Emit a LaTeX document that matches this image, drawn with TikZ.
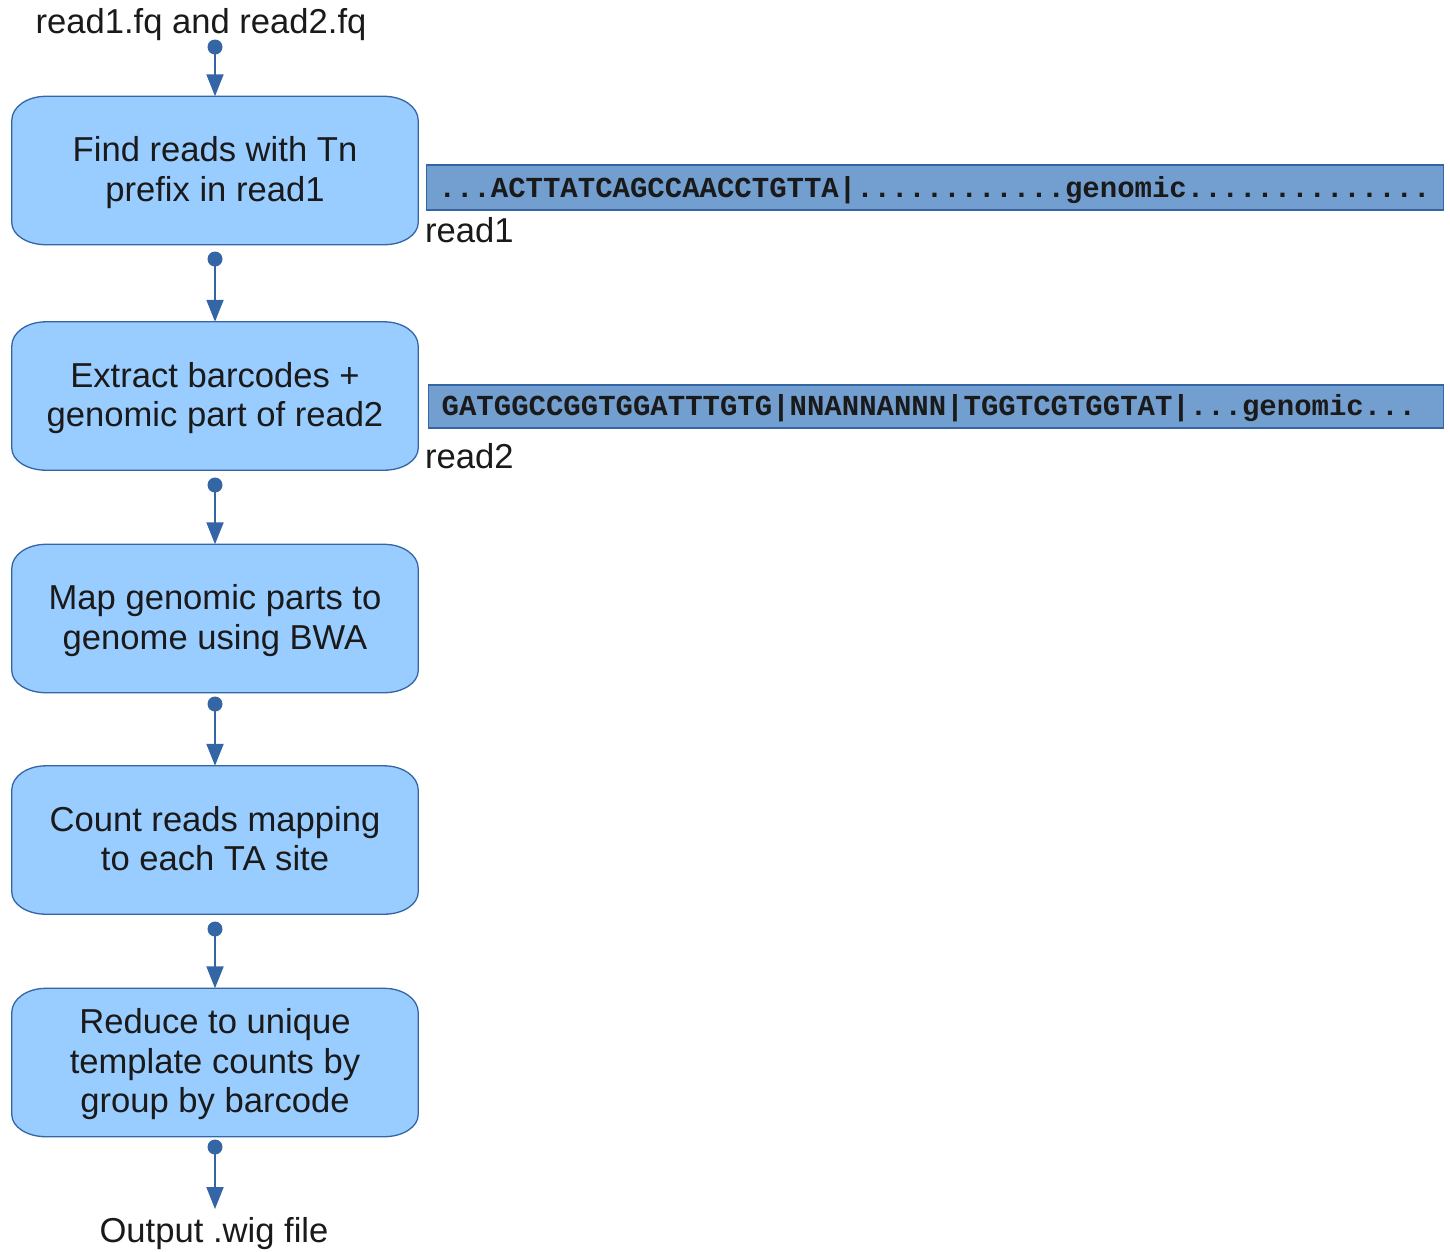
\documentclass[tikz,border=0pt]{standalone}
\usepackage{fontspec}
\setmainfont{Liberation Sans}
\newfontfamily\monob{Liberation Mono}
\usetikzlibrary{arrows.meta,backgrounds}
\definecolor{boxfill}{HTML}{99CCFF}
\definecolor{lineblue}{HTML}{3465A4}
\definecolor{barfill}{HTML}{729FCF}
\definecolor{txt}{HTML}{1A1A1A}
\newcommand\bt[1]{\raisebox{-3pt}[\height][\depth]{\begin{tabular}{@{}c@{}}#1\end{tabular}}}
\newcommand\lowered[2]{\raisebox{-#1}[\height][\depth]{#2}}
\tikzset{
  boxtext/.style={shape=rectangle, minimum width=406pt, minimum height=148pt, inner sep=0pt,
    align=center, text=txt, font=\fontsize{34.6}{39.5}\selectfont},
  boxshape/.style={fill=boxfill, draw=lineblue, line width=1.3pt},
  plain/.style={inner sep=0pt, text=txt, font=\fontsize{34.6}{39.5}\selectfont},
  dotnode/.style={circle, fill=lineblue, inner sep=0pt, minimum size=15pt},
  conn/.style={draw=lineblue, line width=2pt, -{Triangle[width=17pt,length=22pt]}, shorten <=-1pt},
  readbar/.style={shape=rectangle, fill=barfill, draw=lineblue, line width=1.3pt,
    anchor=west, inner ysep=0pt, text=txt, font=\monob\bfseries\fontsize{29}{30}\selectfont}
}
\newcommand\drawboxshape[1]{%
  \draw[boxshape] ([yshift=-24pt]#1.north west) arc[start angle=180,end angle=90,x radius=34pt,y radius=24pt]
    -- ([xshift=-34pt]#1.north east) arc[start angle=90,end angle=0,x radius=34pt,y radius=24pt]
    -- ([yshift=22pt]#1.south east) arc[start angle=0,end angle=-90,x radius=34pt,y radius=22pt]
    -- ([xshift=34pt]#1.south west) arc[start angle=270,end angle=180,x radius=34pt,y radius=22pt]
    -- cycle;}
\begin{document}
\begin{tikzpicture}[x=1pt,y=1pt]
\useasboundingbox (0,0) rectangle (1450,-1251);
% title
\node[plain] (in) at (201,-25) {read1.fq and read2.fq};
% boxes
\node[boxtext] (b1) at (215,-170.5) {\bt{Find reads with Tn\\prefix in read1}};
\node[boxtext] (b2) at (215,-396) {\bt{Extract barcodes +\\genomic part of read2}};
\node[boxtext] (b3) at (215,-618.5) {\bt{Map genomic parts to\\genome using BWA}};
\node[boxtext] (b4) at (215,-840) {\bt{Count reads mapping\\to each TA site}};
\node[boxtext] (b5) at (215,-1062.5) {\bt{Reduce to unique\\template counts by\\group by barcode}};
\begin{scope}[on background layer]
\drawboxshape{b1}
\drawboxshape{b2}
\drawboxshape{b3}
\drawboxshape{b4}
\drawboxshape{b5}
\end{scope}
% output
\node[plain] (out) at (214,-1234) {Output .wig file};
\coordinate (endtip) at (215,-1209);
% dots
\node[dotnode] (d0) at (215,-47) {};
\node[dotnode] (d1) at (215,-259) {};
\node[dotnode] (d2) at (215,-485) {};
\node[dotnode] (d3) at (215,-704) {};
\node[dotnode] (d4) at (215,-929) {};
\node[dotnode] (d5) at (215,-1147) {};
% connectors
\draw[conn] (d0.center) -- (b1.north);
\draw[conn] (d1.center) -- (b2.north);
\draw[conn] (d2.center) -- (b3.north);
\draw[conn] (d3.center) -- (b4.north);
\draw[conn] (d4.center) -- (b5.north);
\draw[conn] (d5.center) -- (endtip);
% read bars
\node[readbar, minimum width=1017pt, minimum height=45pt, text width=993pt, inner xsep=12pt, align=left] (r1) at (426,-187.5)
  {\lowered{3pt}{...ACTTATCAGCCAACCTGTTA|............genomic..............}};
\node[readbar, minimum width=1015pt, minimum height=43pt, text width=989pt, inner xsep=13pt, align=left] (r2) at (428,-406.5)
  {\lowered{2pt}{GATGGCCGGTGGATTTGTG|NNANNANNN|TGGTCGTGGTAT|...genomic...}};
\node[plain, anchor=west] (l1) at (425,-230) {read1};
\node[plain, anchor=west] (l2) at (425,-456) {read2};
\end{tikzpicture}
\end{document}
